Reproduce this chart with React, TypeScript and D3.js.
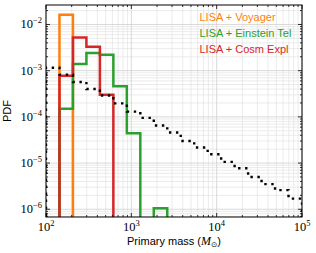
import React, { useEffect, useRef } from 'react';
import * as d3 from 'd3';

// log-spaced bin edges (20 edges -> 19 bins) between 1e2 and 1e5
const binEdges = [100, 143.84, 206.9, 297.6, 428.1, 615.8, 885.8, 1274.1, 1832.7, 2636.2, 3792, 5454.6, 7846, 11286, 16234, 23352, 33590, 48317, 69500, 100000];

const voyager = [0, 0.0163, 0, 0, 0, 0, 0, 0, 0, 0, 0, 0, 0, 0, 0, 0, 0, 0, 0];
const einsteinTel = [0, 1.5e-4, 1.4e-3, 2.4e-3, 2.2e-3, 4.6e-4, 4.4e-5, 0, 1.05e-6, 0, 0, 0, 0, 0, 0, 0, 0, 0, 0];
const cosmExpl = [0, 7.8e-4, 5.2e-3, 3.3e-3, 3.0e-4, 0, 0, 0, 0, 0, 0, 0, 0, 0, 0, 0, 0, 0, 0];
const population = [1.16e-3, 8.2e-4, 5.7e-4, 4.0e-4, 2.9e-4, 1.96e-4, 1.3e-4, 9.5e-5, 6.5e-5, 4.6e-5, 3.0e-5, 2.17e-5, 1.55e-5, 1.06e-5, 7.7e-6, 5.0e-6, 3.5e-6, 2.6e-6, 1.7e-6];

const seriesNames = ['LISA + Voyager', 'LISA + Einstein Tel', 'LISA + Cosm Expl'];
const seriesColors = ['#ff7f0e', '#2ca02c', '#d62728'];

const xTicks = [1e2, 1e3, 1e4, 1e5];
const xTickExps = ['2', '3', '4', '5'];
const yTicks = [1e-6, 1e-5, 1e-4, 1e-3, 1e-2];
const yTickExps = ['\u22126', '\u22125', '\u22124', '\u22123', '\u22122'];

const App = () => {
  const svgRef = useRef<SVGSVGElement>(null);

  useEffect(() => {
    document.body.style.margin = '0';
    const width = 316;
    const height = 253;
    const margin = { top: 5, right: 14, bottom: 36, left: 46 };
    const w = width - margin.left - margin.right;
    const h = height - margin.top - margin.bottom;

    const root = d3.select(svgRef.current)
      .attr('width', width)
      .attr('height', height);
    root.selectAll('*').remove();

    const svg = root.append('g')
      .attr('transform', `translate(${margin.left},${margin.top})`);

    const x = d3.scaleLog().domain([1e2, 1e5]).range([0, w]);
    const y = d3.scaleLog().domain([6.8e-7, 0.0264]).range([h, 0]);

    root.append('defs').append('clipPath').attr('id', 'plot-clip')
      .append('rect').attr('width', w).attr('height', h);

    // minor ticks positions
    const xMinor: number[] = [];
    for (let d = 2; d < 5; d++) for (let m = 2; m <= 9; m++) xMinor.push(m * 10 ** d);
    const yMinor: number[] = [];
    for (let d = -7; d <= -2; d++) for (let m = 2; m <= 9; m++) {
      const v = m * 10 ** d;
      if (v > y.domain()[0] && v < y.domain()[1]) yMinor.push(v);
    }

    // grid
    const grid = svg.append('g');
    grid.selectAll('.xminor').data(xMinor).join('line')
      .attr('x1', d => x(d)).attr('x2', d => x(d)).attr('y1', 0).attr('y2', h)
      .attr('stroke', '#e3e3e3').attr('stroke-width', 0.7);
    grid.selectAll('.yminor').data(yMinor).join('line')
      .attr('y1', d => y(d)).attr('y2', d => y(d)).attr('x1', 0).attr('x2', w)
      .attr('stroke', '#e3e3e3').attr('stroke-width', 0.7);
    grid.selectAll('.xmajor').data(xTicks).join('line')
      .attr('x1', d => x(d)).attr('x2', d => x(d)).attr('y1', 0).attr('y2', h)
      .attr('stroke', '#cfcfcf').attr('stroke-width', 0.8);
    grid.selectAll('.ymajor').data(yTicks).join('line')
      .attr('y1', d => y(d)).attr('y2', d => y(d)).attr('x1', 0).attr('x2', w)
      .attr('stroke', '#cfcfcf').attr('stroke-width', 0.8);

    // step histograms
    const floor = 1e-9;
    const stepPoints = (vals: number[]) => {
      const pts: [number, number][] = [[binEdges[0], floor]];
      vals.forEach((v, i) => {
        const vv = v > 0 ? v : floor;
        pts.push([binEdges[i], vv]);
        pts.push([binEdges[i + 1], vv]);
      });
      pts.push([binEdges[binEdges.length - 1], floor]);
      return pts;
    };
    const line = d3.line<[number, number]>()
      .x(d => x(d[0]))
      .y(d => Math.min(y(d[1]), h + 20));

    const plot = svg.append('g').attr('clip-path', 'url(#plot-clip)');
    [voyager, einsteinTel, cosmExpl].forEach((vals, i) => {
      plot.append('path')
        .attr('d', line(stepPoints(vals)))
        .attr('fill', 'none')
        .attr('stroke', seriesColors[i])
        .attr('stroke-width', 2.5);
    });
    plot.append('path')
      .attr('d', line(stepPoints(population)))
      .attr('fill', 'none')
      .attr('stroke', '#000')
      .attr('stroke-width', 2.4)
      .attr('stroke-dasharray', '2.4,4.6');

    // spines
    svg.append('rect').attr('width', w).attr('height', h)
      .attr('fill', 'none').attr('stroke', '#000').attr('stroke-width', 1);

    // inward ticks on all sides
    const ticks = svg.append('g').attr('stroke', '#000').attr('stroke-width', 0.8);
    const addX = (vals: number[], len: number) => {
      vals.forEach(v => {
        ticks.append('line').attr('x1', x(v)).attr('x2', x(v)).attr('y1', h).attr('y2', h - len);
        ticks.append('line').attr('x1', x(v)).attr('x2', x(v)).attr('y1', 0).attr('y2', len);
      });
    };
    const addY = (vals: number[], len: number) => {
      vals.forEach(v => {
        ticks.append('line').attr('y1', y(v)).attr('y2', y(v)).attr('x1', 0).attr('x2', len);
        ticks.append('line').attr('y1', y(v)).attr('y2', y(v)).attr('x1', w).attr('x2', w - len);
      });
    };
    addX(xTicks, 4); addX(xMinor, 2);
    addY(yTicks, 4); addY(yMinor, 2);

    // tick labels
    const serif = "'Liberation Serif', 'DejaVu Serif', serif";
    xTicks.forEach((v, i) => {
      const t = svg.append('text')
        .attr('x', x(v)).attr('y', h + 14)
        .attr('text-anchor', 'middle')
        .style('font-family', serif).style('font-size', '12.5px');
      t.append('tspan').text('10');
      t.append('tspan').attr('dy', -5).style('font-size', '8.5px').text(xTickExps[i]);
    });
    yTicks.forEach((v, i) => {
      const t = svg.append('text')
        .attr('x', -4).attr('y', y(v) + 4)
        .attr('text-anchor', 'end')
        .style('font-family', serif).style('font-size', '12.5px');
      t.append('tspan').text('10');
      t.append('tspan').attr('dy', -5).style('font-size', '8.5px').text(yTickExps[i]);
    });

    // axis labels
    const sans = "'Liberation Sans', Arial, sans-serif";
    svg.append('text')
      .attr('transform', `translate(${-35},${h / 2}) rotate(-90)`)
      .attr('text-anchor', 'middle')
      .style('font-family', sans).style('font-size', '11px')
      .text('PDF');
    const xl = svg.append('text')
      .attr('x', w / 2).attr('y', h + 28)
      .attr('text-anchor', 'middle')
      .style('font-family', sans).style('font-size', '11px');
    xl.append('tspan').text('Primary mass (');
    xl.append('tspan').style('font-family', serif).style('font-style', 'italic').style('font-size', '12px').text('M');
    xl.append('tspan').attr('dy', 2).style('font-family', "'DejaVu Sans', sans-serif").style('font-size', '7.5px').text('\u2299');
    xl.append('tspan').attr('dy', -2).text(')');

    // legend (text only)
    seriesNames.forEach((name, i) => {
      svg.append('text')
        .attr('x', 153.5).attr('y', 16 + i * 16)
        .style('font-family', sans).style('font-size', '11px')
        .style('fill', seriesColors[i])
        .text(name);
    });
  }, []);

  return <svg ref={svgRef}></svg>;
};

export default App;
